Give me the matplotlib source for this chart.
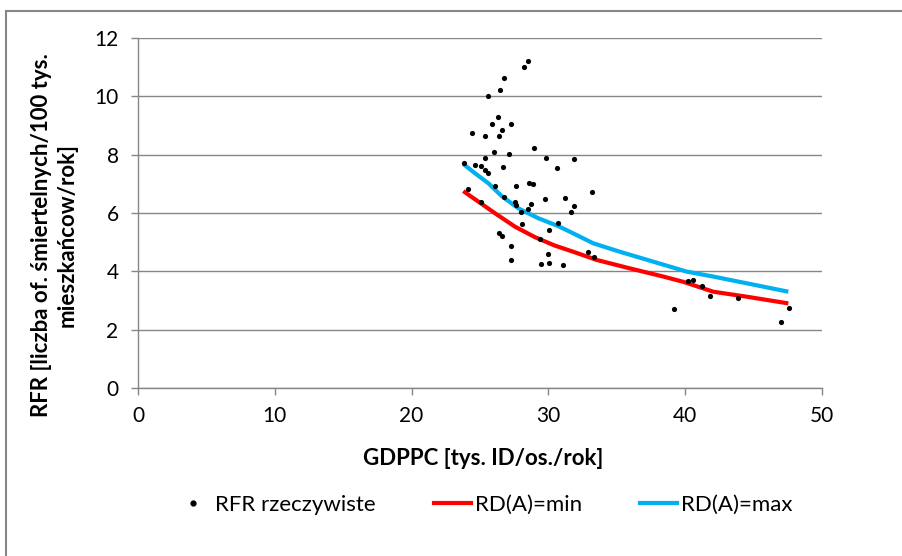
import matplotlib.pyplot as plt
from matplotlib.patches import Rectangle
from matplotlib.lines import Line2D

# RFR rzeczywiste (punkty)
gdppc = [28.49, 28.19, 26.75, 26.49, 25.61, 26.32, 25.88, 27.27, 26.58, 26.41,
         24.42, 25.37, 28.92, 26.02, 27.14, 25.37, 29.80, 31.87, 23.81, 24.64,
         25.07, 26.71, 25.37, 25.61, 30.60, 24.15, 26.12, 27.66, 28.56, 28.85,
         33.21, 26.78, 29.73, 31.19, 25.05, 27.56, 27.63, 27.97, 28.75, 28.49,
         31.87, 31.65, 28.09, 30.68, 30.02, 26.39, 26.61, 29.36, 27.29, 29.95,
         32.92, 33.36, 27.29, 29.43, 30.04, 31.07, 39.18, 40.23, 40.59, 41.21,
         41.79, 43.86, 47.03, 47.56]
rfr = [11.22, 11.01, 10.64, 10.22, 10.01, 9.28, 9.04, 9.04, 8.83, 8.65,
       8.73, 8.65, 8.24, 8.10, 8.03, 7.89, 7.89, 7.86, 7.72, 7.66,
       7.62, 7.59, 7.48, 7.38, 7.55, 6.83, 6.94, 6.94, 7.04, 7.00,
       6.73, 6.56, 6.47, 6.52, 6.37, 6.37, 6.26, 6.05, 6.30, 6.13,
       6.23, 6.05, 5.63, 5.67, 5.43, 5.32, 5.22, 5.12, 4.88, 4.60,
       4.67, 4.49, 4.40, 4.26, 4.30, 4.22, 2.72, 3.66, 3.70, 3.49,
       3.17, 3.10, 2.26, 2.75]

# RD(A)=min
x_min = [23.78, 24.88, 26.10, 27.56, 29.02, 30.48, 31.82, 33.53, 35.96, 38.40,
         39.86, 42.05, 44.49, 47.54]
y_min = [6.75, 6.39, 5.99, 5.53, 5.17, 4.88, 4.67, 4.39, 4.10, 3.82,
         3.64, 3.30, 3.13, 2.90]

# RD(A)=max
x_max = [23.78, 24.64, 25.61, 26.58, 27.80, 29.26, 30.72, 31.82, 33.28, 35.23,
         37.67, 40.11, 42.05, 44.49, 47.54]
y_max = [7.68, 7.36, 7.02, 6.58, 6.16, 5.82, 5.55, 5.30, 4.96, 4.67,
         4.33, 3.99, 3.82, 3.59, 3.30]

plt.rcParams["font.family"] = ["Lato", "DejaVu Sans"]

fig = plt.figure(figsize=(9.03, 5.56), dpi=100)
ax = fig.add_axes([0.1528, 0.3022, 0.7575, 0.6295])

szary = "#868686"

ax.plot(x_min, y_min, color="#FF0000", lw=3.0, zorder=3, solid_capstyle="butt")
ax.plot(x_max, y_max, color="#00B0F0", lw=3.0, zorder=3, solid_capstyle="butt")
ax.scatter(gdppc, rfr, s=14, color="black", zorder=4, linewidths=0)

ax.set_xlim(0, 50)
ax.set_ylim(0, 12)
ax.set_xticks(range(0, 51, 10))
ax.set_yticks(range(0, 13, 2))
ax.yaxis.grid(True, color=szary, lw=1.0)
ax.set_axisbelow(True)

for lado in ["top", "right"]:
    ax.spines[lado].set_visible(False)
for lado in ["left", "bottom"]:
    ax.spines[lado].set_color(szary)
    ax.spines[lado].set_linewidth(1.0)

ax.tick_params(axis="both", colors=szary, labelcolor="black", labelsize=15,
               length=5, width=1.0)
ax.tick_params(axis="y", pad=9)
ax.tick_params(axis="x", pad=8)

ax.set_xlabel("GDPPC [tys. ID/os./rok]", fontsize=16, fontweight="bold")
ax.xaxis.set_label_coords(0.505, -0.172)
ax.set_ylabel("RFR [liczba of. śmiertelnych/100 tys.\nmieszkańcow/rok]",
              fontsize=16, fontweight="bold", linespacing=1.3)
ax.yaxis.set_label_coords(-0.088, 0.437)

uchwyty = [
    Line2D([], [], color="black", marker="o", markersize=3.5, lw=0),
    Line2D([], [], color="#FF0000", lw=3.0),
    Line2D([], [], color="#00B0F0", lw=3.0),
]
fig.legend(uchwyty, ["RFR rzeczywiste", "RD(A)=min", "RD(A)=max"],
           loc="center", bbox_to_anchor=(0.535, 0.092), ncol=3, frameon=False,
           fontsize=16, handlelength=1.7, handletextpad=0.15, columnspacing=2.6)

# ramka wykresu
fig.patches.append(Rectangle((6 / 903, -0.2), 1.2, 1.2 - 11 / 556,
                             transform=fig.transFigure, fill=False,
                             edgecolor=szary, lw=1.5))

fig.savefig("out.png", dpi=100)
